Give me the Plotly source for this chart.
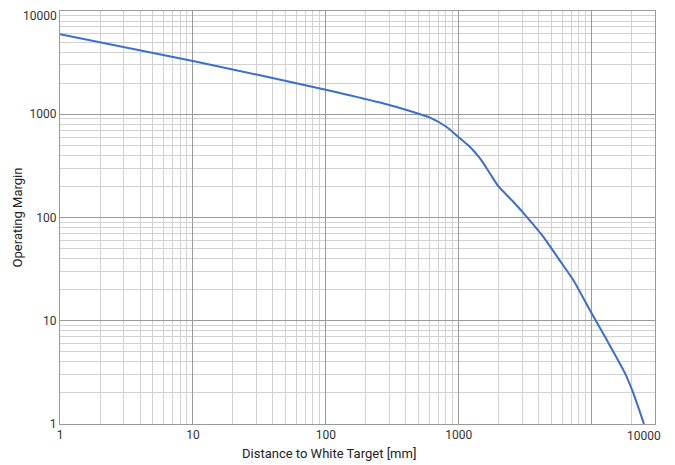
import math
import plotly.graph_objects as go

# Data (x positions as drawn on the log axis)
distance = [1, 10, 100, 256, 455, 608, 812, 993, 1217, 1446, 1720, 1986, 2576, 3249,
            4335, 5615, 7280, 10000, 13000, 17830, 20600, 24800]
margin = [5950, 3280, 1730, 1297, 1051, 929, 753, 603, 482, 373, 267, 201, 142, 101.6,
          65, 40.2, 24.8, 11.8, 6.53, 3.11, 1.99, 1.0]

x_major = [1, 10, 100, 1000, 10000]
x_major_text = ["1", "10", "100", "1000", ""]
x_end_label = "10000"
x_end_label_pos = 24800
y_major = [1, 10, 100, 1000, 10000]
y_major_text = ["1", "10", "100", "1000", ""]
y_top_label = "10000"
x_title = "Distance to White Target [mm]"
y_title = "Operating Margin"

minor_x = [m * 10 ** d for d in range(0, 5) for m in range(2, 10) if m * 10 ** d < 30000]
minor_y = [m * 10 ** d for d in range(0, 4) for m in range(2, 10)]

FONT = "Roboto, Liberation Sans, sans-serif"

fig = go.Figure()
fig.add_trace(go.Scatter(x=distance, y=margin, mode="lines",
                         line=dict(color="#3a6fcf", width=2, shape="spline", smoothing=0.6),
                         showlegend=False, hoverinfo="x+y"))

# page body has an 8px margin, so the figure is sized/offset accordingly
fig.update_layout(
    width=667, height=457,
    margin=dict(l=52, r=20, t=2.5, b=40.7),
    paper_bgcolor="white", plot_bgcolor="white",
    font=dict(family=FONT, size=12, color="#222"),
    xaxis=dict(type="log", range=[0, math.log10(30000)], automargin=False,
               tickmode="array", tickvals=x_major, ticktext=x_major_text,
               showgrid=True, gridcolor="#9a9a9a", gridwidth=1,
               showline=True, linecolor="#9a9a9a", linewidth=1, mirror=True,
               ticks="", zeroline=False, ticklabeloverflow="allow",
               minor=dict(tickmode="array", tickvals=minor_x, showgrid=True,
                          gridcolor="#d2d2d2", gridwidth=1, ticks=""),
               tickfont=dict(size=12, color="#333")),
    yaxis=dict(type="log", range=[0, 4], automargin=False,
               tickmode="array", tickvals=y_major, ticktext=y_major_text,
               showgrid=True, gridcolor="#9a9a9a", gridwidth=1,
               showline=True, linecolor="#9a9a9a", linewidth=1, mirror=True,
               ticks="", zeroline=False, ticklabeloverflow="allow",
               minor=dict(tickmode="array", tickvals=minor_y, showgrid=True,
                          gridcolor="#d2d2d2", gridwidth=1, ticks=""),
               title=dict(text=y_title, standoff=4,
                          font=dict(size=13, color="#222")),
               tickfont=dict(size=12, color="#333")),
)

fig.add_annotation(x=math.log10(x_end_label_pos), y=0, xref="x", yref="paper",
                   text=x_end_label, showarrow=False, yanchor="top", yshift=-3,
                   font=dict(family=FONT, size=12, color="#333"))
fig.add_annotation(x=0, y=1, xref="paper", yref="paper",
                   text=y_top_label, showarrow=False, xanchor="right", yanchor="top",
                   xshift=-1, yshift=4,
                   font=dict(family=FONT, size=12, color="#333"))
fig.add_annotation(x=0.452, y=0, xref="paper", yref="paper",
                   text=x_title, showarrow=False, yanchor="top", yshift=-20,
                   font=dict(family=FONT, size=13, color="#222"))

fig.write_html("out.html")
